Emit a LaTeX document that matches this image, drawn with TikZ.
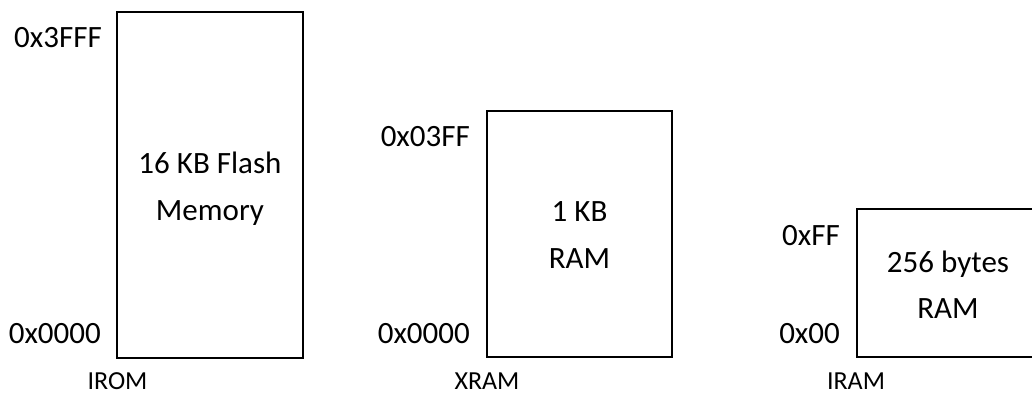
\documentclass[tikz,border=0pt]{standalone}
\usepackage{fontspec}
\setmainfont{Carlito}
\begin{document}
\begin{tikzpicture}[x=1pt,y=-1pt,
  membox/.style={draw=black,line width=2pt,inner sep=0pt,outer sep=0pt,fill=none},
  big/.style={font=\fontsize{31}{37}\selectfont,inner sep=0pt,anchor=base},
  addr/.style={font=\fontsize{31}{37}\selectfont,inner sep=0pt,anchor=base east},
  small/.style={font=\fontsize{26}{30}\selectfont,inner sep=0pt,anchor=base}]
\useasboundingbox (0,0) rectangle (1032,396);
\clip (0,0) rectangle (1032,396);
% IROM
\node[membox,minimum width=186pt,minimum height=345.5pt] (irom) at (210,185.2) {};
\node[addr] (iromtop) at (102,48) {0x3FFF};
\node[addr] (irombot) at (101,343) {0x0000};
\node[big] (iromt1) at (210,173) {16 KB Flash};
\node[big] (iromt2) at (210,220) {Memory};
\node[small] (iromlbl) at (117.5,389) {IROM};
% XRAM
\node[membox,minimum width=185pt,minimum height=246pt] (xram) at (579.5,234) {};
\node[addr] (xramtop) at (470,146) {0x03FF};
\node[addr] (xrambot) at (470,343) {0x0000};
\node[big] (xramt1) at (579.5,221) {1 KB};
\node[big] (xramt2) at (579.5,268) {RAM};
\node[small] (xramlbl) at (487,389) {XRAM};
% IRAM
\node[membox,minimum width=182pt,minimum height=148pt] (iram) at (948,283) {};
\node[addr] (iramtop) at (840,245) {0xFF};
\node[addr] (irambot) at (840,343) {0x00};
\node[big] (iramt1) at (948,272) {256 bytes};
\node[big] (iramt2) at (948,318) {RAM};
\node[small] (iramlbl) at (856,389) {IRAM};
\end{tikzpicture}
\end{document}
